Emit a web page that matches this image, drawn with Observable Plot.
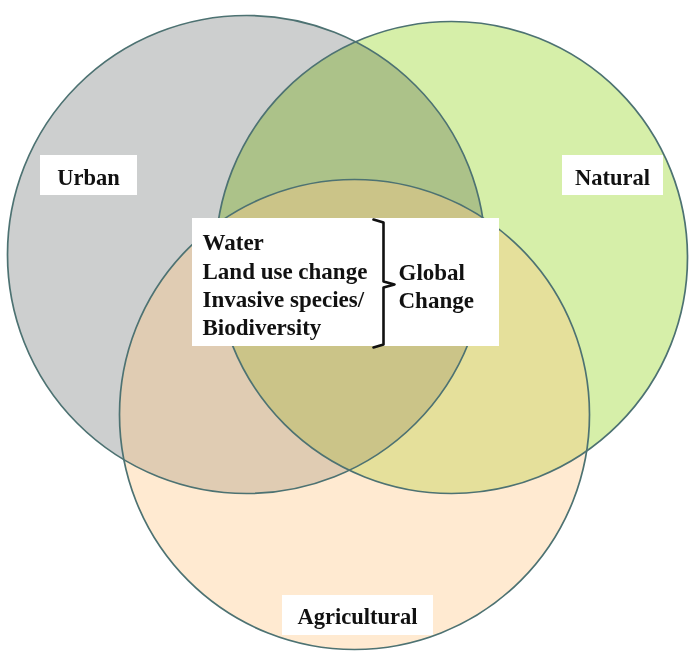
<!DOCTYPE html>
<html>
<head>
<meta charset="utf-8">
<script src="https://cdn.jsdelivr.net/npm/d3@7"></script>
<script src="https://cdn.jsdelivr.net/npm/@observablehq/plot@0.6"></script>
<style>
  html, body { margin: 0; padding: 0; background: #fff; }
  #chart svg { display: block; }
</style>
</head>
<body>
<div id="chart"></div>
<script>
// Sets of the Venn diagram
const setNames = ["Urban", "Natural", "Agricultural"];
const setCenterX = [246, 451, 354];
const setCenterY = [254, 257, 414];
const setRadius = [239, 236, 235];
const setFill = ["#cdcfcf", "#d6efa9", "#ffc887"];

// Set labels (white boxes)
const labelX = [88, 612, 357];
const labelBaseline = [184, 184, 623];
const labelBoxX1 = [40, 562, 282];
const labelBoxX2 = [137, 663, 433];
const labelBoxY1 = [155, 155, 595];
const labelBoxY2 = [195, 195, 635];

// Central box: shared drivers
const drivers = ["Water", "Land use change", "Invasive species/", "Biodiversity"];
const driverBaseline = [249, 278, 306, 334];
const driverX = 202;
const groupLines = ["Global", "Change"];
const groupBaseline = [279, 307];
const groupX = 398;
const centerBox = {x1: 192, x2: 499, y1: 218, y2: 346};

// Bracket joining drivers to "Global Change"
const bracketX = [373, 383, 383, 394, 383, 383, 373];
const bracketY = [219, 222, 281, 284, 287, 344, 347];

const circles = setNames.map((name, i) => ({
  name, x: setCenterX[i], y: setCenterY[i], r: setRadius[i], fill: setFill[i]
}));
const labels = setNames.map((name, i) => ({
  name, x: labelX[i], y: labelBaseline[i],
  x1: labelBoxX1[i], x2: labelBoxX2[i], y1: labelBoxY1[i], y2: labelBoxY2[i]
}));
const driverRows = drivers.map((t, i) => ({t, x: driverX, y: driverBaseline[i]}));
const groupRows = groupLines.map((t, i) => ({t, x: groupX, y: groupBaseline[i]}));
const bracket = bracketX.map((x, i) => ({x, y: bracketY[i]}));

const font = "'Liberation Serif', 'Times New Roman', serif";

const chart = Plot.plot({
  width: 694,
  height: 653,
  margin: 0,
  x: {domain: [0, 694], range: [0, 694], axis: null},
  y: {domain: [0, 653], range: [0, 653], axis: null},
  r: {type: "identity"},
  style: {background: "#ffffff"},
  marks: [
    Plot.dot([circles[0]], {x: "x", y: "y", r: "r", fill: "fill", stroke: "none"}),
    Plot.dot([circles[1]], {x: "x", y: "y", r: "r", fill: "fill", stroke: "none", mixBlendMode: "multiply"}),
    Plot.dot([circles[2]], {x: "x", y: "y", r: "r", fill: "fill", fillOpacity: 0.38, stroke: "none"}),
    Plot.dot(circles, {x: "x", y: "y", r: "r", fill: "none", stroke: "#4d7272", strokeWidth: 1.7}),
    Plot.rect(labels, {x1: "x1", x2: "x2", y1: "y1", y2: "y2", fill: "#ffffff"}),
    Plot.rect([centerBox], {x1: "x1", x2: "x2", y1: "y1", y2: "y2", fill: "#ffffff"}),
    Plot.text(labels, {x: "x", y: "y", text: "name", lineAnchor: "bottom", textAnchor: "middle",
      fontFamily: font, fontWeight: "bold", fontSize: 22.5, fill: "#111"}),
    Plot.text(driverRows, {x: "x", y: "y", text: "t", lineAnchor: "bottom", textAnchor: "start",
      fontFamily: font, fontWeight: "bold", fontSize: 23, fill: "#111"}),
    Plot.text(groupRows, {x: "x", y: "y", text: "t", lineAnchor: "bottom", textAnchor: "start",
      fontFamily: font, fontWeight: "bold", fontSize: 23, fill: "#111"}),
    Plot.line(bracket, {x: "x", y: "y", stroke: "#111", strokeWidth: 2.6, strokeLinejoin: "round", strokeLinecap: "round"})
  ]
});
document.getElementById("chart").appendChild(chart);
</script>
</body>
</html>
